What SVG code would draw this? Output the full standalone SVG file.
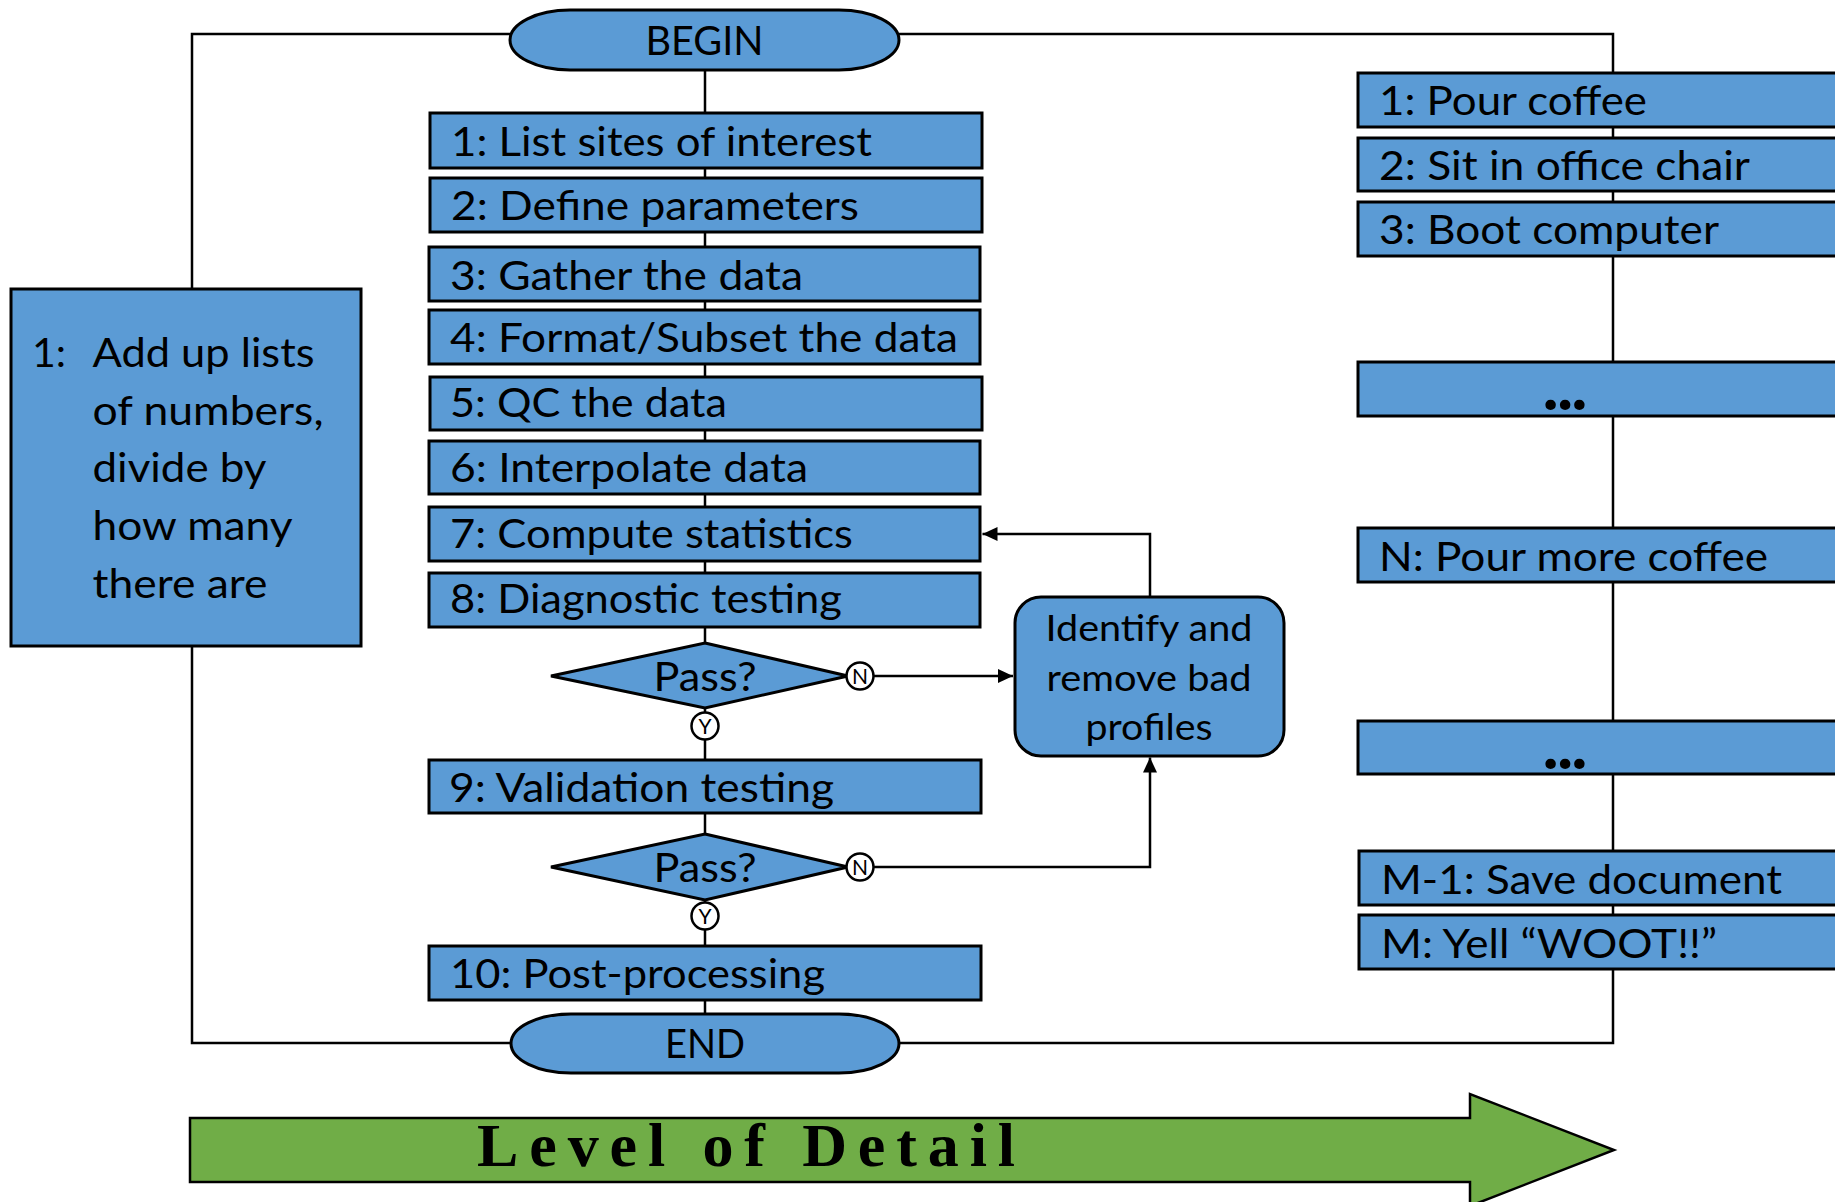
<svg xmlns="http://www.w3.org/2000/svg" width="1835" height="1202" viewBox="0 0 1835 1202">
<defs>
<style>
.box{fill:#5B9BD5;stroke:#000;stroke-width:3}
.t{font-family:Lato,"Liberation Sans",sans-serif;font-size:41px;fill:#000}
.tc{font-family:Lato,"Liberation Sans",sans-serif;font-size:41px;fill:#000;text-anchor:middle}
.yn{fill:#fff;stroke:#000;stroke-width:2.5}
.ynt{font-family:Lato,"Liberation Sans",sans-serif;font-size:21px;fill:#000;text-anchor:middle}
.ln{fill:none;stroke:#000;stroke-width:2.5}
</style>
<marker id="arr" markerUnits="userSpaceOnUse" markerWidth="16" markerHeight="16" viewBox="0 0 16 16" refX="15" refY="8" orient="auto">
<path d="M0,1 L15,8 L0,15 Z" fill="#000"/>
</marker>
</defs>
<rect width="1835" height="1202" fill="#fff"/>

<g id="connectors">
<path class="ln" d="M510,34 H192 V289"/>
<path class="ln" d="M192,646 V1043 H511"/>
<path class="ln" d="M899,34 H1613 V1043 H899"/>
<path class="ln" d="M705,70 V1014"/>
<path class="ln" d="M874,676 H1013" marker-end="url(#arr)"/>
<path class="ln" d="M1150,597 V534 H982.5" marker-end="url(#arr)"/>
<path class="ln" d="M874,867 H1150 V757.5" marker-end="url(#arr)"/>
</g>

<g id="begin"><rect class="box" x="510" y="10" width="389" height="60" rx="60" ry="30"/><text class="tc" x="704.5" y="55" textLength="118" lengthAdjust="spacingAndGlyphs">BEGIN</text></g>
<g id="s1"><rect class="box" x="430" y="113" width="552" height="55"/><text class="t" x="451" y="156" textLength="421" lengthAdjust="spacingAndGlyphs">1: List sites of interest</text></g>
<g id="s2"><rect class="box" x="430" y="178" width="552" height="54"/><text class="t" x="451" y="220" textLength="408" lengthAdjust="spacingAndGlyphs">2: Define parameters</text></g>
<g id="s3"><rect class="box" x="429" y="247" width="551" height="54"/><text class="t" x="450" y="290" textLength="353" lengthAdjust="spacingAndGlyphs">3: Gather the data</text></g>
<g id="s4"><rect class="box" x="429" y="310" width="551" height="54"/><text class="t" x="450" y="352" textLength="508" lengthAdjust="spacingAndGlyphs">4: Format/Subset the data</text></g>
<g id="s5"><rect class="box" x="430" y="377" width="552" height="53"/><text class="t" x="450" y="417" textLength="277" lengthAdjust="spacingAndGlyphs">5: QC the data</text></g>
<g id="s6"><rect class="box" x="429" y="441" width="551" height="53"/><text class="t" x="450" y="482" textLength="358" lengthAdjust="spacingAndGlyphs">6: Interpolate data</text></g>
<g id="s7"><rect class="box" x="429" y="507" width="551" height="54"/><text class="t" x="450" y="548" textLength="403" lengthAdjust="spacingAndGlyphs">7: Compute statistics</text></g>
<g id="s8"><rect class="box" x="429" y="573" width="551" height="54"/><text class="t" x="450" y="613" textLength="392" lengthAdjust="spacingAndGlyphs">8: Diagnostic testing</text></g>
<g id="d1"><polygon class="box" points="705,643 848,676 705,708 551,676"/><text class="tc" x="705" y="691" textLength="103" lengthAdjust="spacingAndGlyphs">Pass?</text></g>
<g id="n1"><circle class="yn" cx="860" cy="676" r="13.5"/><text class="ynt" x="860" y="683.5">N</text></g>
<g id="y1"><circle class="yn" cx="705" cy="726" r="13.5"/><text class="ynt" x="705" y="733.5">Y</text></g>
<g id="s9"><rect class="box" x="429" y="760" width="552" height="53"/><text class="t" x="449" y="802" textLength="385" lengthAdjust="spacingAndGlyphs">9: Validation testing</text></g>
<g id="d2"><polygon class="box" points="705,834 848,867 705,900 551,867"/><text class="tc" x="705" y="882" textLength="103" lengthAdjust="spacingAndGlyphs">Pass?</text></g>
<g id="n2"><circle class="yn" cx="860" cy="867" r="13.5"/><text class="ynt" x="860" y="874.5">N</text></g>
<g id="y2"><circle class="yn" cx="705" cy="916" r="13.5"/><text class="ynt" x="705" y="923.5">Y</text></g>
<g id="s10"><rect class="box" x="429" y="946" width="552" height="54"/><text class="t" x="450" y="988" textLength="375" lengthAdjust="spacingAndGlyphs">10: Post-processing</text></g>
<g id="end"><rect class="box" x="511" y="1014" width="388" height="59" rx="60" ry="29.5"/><text class="tc" x="705" y="1058" textLength="80" lengthAdjust="spacingAndGlyphs">END</text></g>

<g id="identify"><rect class="box" x="1015" y="597" width="269" height="159" rx="26" ry="26"/>
<text class="tc" x="1149" y="641" style="font-size:36px" textLength="207" lengthAdjust="spacingAndGlyphs">Identify and</text>
<text class="tc" x="1149" y="691" style="font-size:36px" textLength="205" lengthAdjust="spacingAndGlyphs">remove bad</text>
<text class="tc" x="1149" y="740" style="font-size:36px" textLength="127" lengthAdjust="spacingAndGlyphs">profiles</text></g>

<g id="summary"><rect class="box" x="11" y="289" width="350" height="357"/>
<text class="t" x="32" y="367">1:</text>
<text class="t" x="92.5" y="367" textLength="222" lengthAdjust="spacingAndGlyphs">Add up lists</text>
<text class="t" x="92.5" y="425" textLength="231" lengthAdjust="spacingAndGlyphs">of numbers,</text>
<text class="t" x="92.5" y="482" textLength="174" lengthAdjust="spacingAndGlyphs">divide by</text>
<text class="t" x="92.5" y="540" textLength="200" lengthAdjust="spacingAndGlyphs">how many</text>
<text class="t" x="92.5" y="598" textLength="175" lengthAdjust="spacingAndGlyphs">there are</text></g>

<g id="r1"><rect class="box" x="1358" y="73" width="490" height="54"/><text class="t" x="1379" y="115" textLength="268" lengthAdjust="spacingAndGlyphs">1: Pour coffee</text></g>
<g id="r2"><rect class="box" x="1358" y="138" width="490" height="53"/><text class="t" x="1379" y="180" textLength="371" lengthAdjust="spacingAndGlyphs">2: Sit in office chair</text></g>
<g id="r3"><rect class="box" x="1358" y="202" width="490" height="54"/><text class="t" x="1379" y="244" textLength="340" lengthAdjust="spacingAndGlyphs">3: Boot computer</text></g>
<g id="r4"><rect class="box" x="1358" y="362" width="490" height="54"/><text class="tc" x="1565" y="410" style="font-size:64px;font-weight:900" textLength="44">...</text></g>
<g id="r5"><rect class="box" x="1358" y="528" width="490" height="54"/><text class="t" x="1379" y="571" textLength="389" lengthAdjust="spacingAndGlyphs">N: Pour more coffee</text></g>
<g id="r6"><rect class="box" x="1358" y="721" width="490" height="53"/><text class="tc" x="1565" y="769" style="font-size:64px;font-weight:900" textLength="44">...</text></g>
<g id="r7"><rect class="box" x="1359" y="851" width="490" height="54"/><text class="t" x="1381" y="894" textLength="401" lengthAdjust="spacingAndGlyphs">M-1: Save document</text></g>
<g id="r8"><rect class="box" x="1359" y="915" width="490" height="54"/><text class="t" x="1381" y="958" textLength="336" lengthAdjust="spacingAndGlyphs">M: Yell “WOOT!!”</text></g>

<g id="level-of-detail">
<polygon points="190,1118 1470,1118 1470,1094 1614,1150 1470,1206 1470,1182 190,1182" fill="#70AD47" stroke="#000" stroke-width="2.5"/>
<text x="477" y="1166" font-family="'Liberation Serif',serif" font-weight="bold" font-size="62" textLength="538" fill="#000">Level of Detail</text>
</g>
</svg>
